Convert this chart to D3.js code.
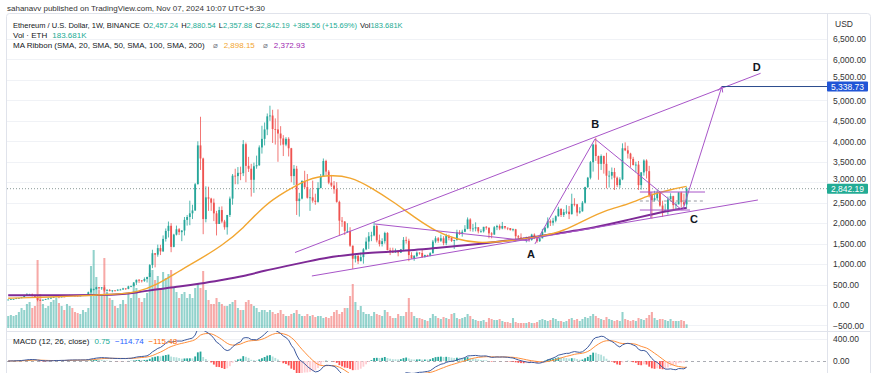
<!DOCTYPE html>
<html>
<head>
<meta charset="utf-8">
<script src="https://cdn.jsdelivr.net/npm/d3@7/dist/d3.min.js"></script>
<style>
html,body{margin:0;padding:0;background:#ffffff;}
svg{display:block;font-family:"Liberation Sans",Arial,sans-serif;}
</style>
</head>
<body>
<svg id="chart" width="875" height="373"></svg>
<script>
// ================= DATA (weekly ETH/USD, Dec 23 2019 -> Nov 4 2024) =================
const firstOpen = 128;
const close2019 = [132];
const high2019  = [136];
const low2019   = [125];

const close2020 = [144,146,167,168,190,223,260,262,218,200,123,122,125,143,158,180,197,210,187,207,200,231,241,230,228,225,228,239,239,310,387,390,433,409,430,353,365,344,357,353,375,377,406,395,455,460,550,615,601,590,635,685];
const high2020  = [145,150,175,175,191,224,288,275,280,253,205,139,140,150,175,188,199,227,215,215,211,245,250,248,236,234,233,244,245,327,415,400,445,440,440,488,390,390,362,362,382,395,420,410,470,475,560,622,635,610,675,690];
const low2020   = [127,136,143,157,166,186,221,240,209,190,90,110,119,124,142,148,170,195,165,185,195,198,225,220,222,215,222,227,233,236,310,355,375,372,370,308,330,330,310,335,340,360,375,370,385,435,460,490,540,550,565,550];

const close2021 = [975,1265,1230,1390,1310,1615,1810,1935,1420,1720,1850,1780,1820,2080,2150,2240,2310,2950,3900,3580,2100,2630,2600,2500,2240,1980,2320,2040,1900,2200,2600,3160,3150,3230,3220,3930,3400,3330,3060,3390,3415,3850,4060,4290,4610,4630,4300,4290,4190,4070,3920,4060];
const high2021  = [1000,1350,1260,1475,1470,1700,1870,2040,2000,1740,1940,1880,1830,2150,2200,2550,2450,2980,4000,4600,3600,2900,2890,2620,2600,2300,2400,2410,2080,2200,2650,3200,3330,3370,3380,4030,3970,3620,3450,3480,3650,3900,4380,4460,4680,4870,4770,4560,4780,4370,4150,4100];
const low2021   = [715,900,920,1180,1220,1300,1550,1650,1290,1410,1700,1710,1560,1700,1940,1950,2100,2300,2950,3300,1730,2020,2300,2300,2050,1700,1980,2000,1840,1720,2150,2450,2950,2950,3050,3150,3000,3250,2650,2740,3330,3400,3700,3900,4150,4500,3960,3920,3500,3900,3640,3880];

const close2022 = [3830,3150,3330,2540,2600,3030,2880,2620,2630,2550,2520,2860,3140,3520,3260,2990,2920,2830,2520,2060,2040,1810,1810,1450,1130,1200,1070,1170,1360,1550,1680,1700,1930,1580,1490,1560,1760,1340,1300,1280,1320,1280,1360,1590,1570,1220,1140,1200,1280,1270,1170,1220,1200];
const high2022  = [4100,3840,3420,3400,2740,3050,3280,3200,2830,3040,2720,3000,3200,3580,3550,3300,3180,3030,3000,2550,2150,2050,2000,1900,1450,1250,1230,1280,1390,1650,1780,1790,2030,1960,1720,1630,1790,1780,1400,1400,1380,1340,1370,1660,1670,1620,1290,1220,1310,1290,1350,1230,1230];
const low2022   = [3630,3000,2930,2200,2160,2580,2850,2600,2300,2500,2450,2500,2850,3180,3170,2950,2880,2720,2500,1700,1910,1710,1760,1420,880,1040,1000,1070,1010,1340,1370,1560,1680,1530,1430,1430,1500,1340,1220,1270,1280,1190,1270,1340,1500,1070,1130,1080,1170,1230,1150,1160,1180];

const close2023 = [1265,1550,1630,1570,1630,1510,1690,1640,1565,1590,1780,1750,1790,1860,2090,1860,1870,1900,1800,1800,1910,1890,1750,1720,1900,1930,1870,1930,1890,1880,1830,1850,1680,1650,1630,1620,1620,1590,1720,1630,1560,1630,1790,1890,2050,2010,2060,2170,2350,2200,2270,2280];
const high2023  = [1290,1590,1680,1660,1720,1680,1740,1720,1670,1590,1840,1830,1840,1950,2140,2120,1980,2020,1900,1850,1910,1930,1890,1780,1930,1960,1970,2030,1930,1890,1880,1870,1860,1710,1750,1650,1670,1680,1740,1750,1640,1640,1860,1910,2140,2090,2130,2190,2400,2360,2340,2440];
const low2023   = [1190,1260,1510,1520,1540,1460,1460,1580,1540,1370,1570,1710,1670,1780,1850,1800,1790,1800,1750,1770,1770,1840,1630,1630,1720,1830,1830,1850,1850,1830,1820,1800,1550,1620,1610,1600,1530,1570,1570,1610,1520,1540,1630,1760,1870,1930,1940,2020,2160,2150,2150,2220];

const close2024 = [2220,2470,2460,2260,2290,2500,2880,3110,3490,3920,3640,3450,3640,3450,3160,3160,3250,3110,2930,3070,3830,3780,3700,3570,3420,3430,2930,3240,3530,3270,2690,2560,2610,2750,2430,2290,2320,2580,2660,2440,2460,2750,2510,2457.24,2842.19];
const high2024  = [2420,2720,2610,2470,2390,2540,2890,3130,3520,3940,4090,3650,3680,3650,3720,3280,3360,3350,3140,3120,3950,3975,3890,3720,3620,3500,3520,3250,3560,3560,3400,2760,2790,2820,2770,2550,2470,2650,2730,2670,2520,2760,2770,2720,2880.54];
const low2024   = [2100,2210,2410,2170,2230,2280,2480,2860,3070,3260,3520,3060,3300,3210,2850,2870,3070,2810,2880,2860,3050,3760,3580,3360,3410,3240,2810,2820,3160,3090,2630,2110,2530,2550,2400,2150,2270,2210,2590,2310,2350,2460,2390,2420,2357.88];

// weekly volume, thousand ETH
const volumes = [
 600,650,600,650,800,1000,900,1200,1300,1000,1100,
 3400,
 1700,1200,1000,1100,1300,1400,1500,1250,1100,
 900,1200,1100,1000,800,750,700,900,800,1000,
 3100,3900,2550,1900,1700,3500,1800,1500,1400,1100,
 1000,1200,1400,1200,1700,1500,2200,2000,1500,1300,1500,1750,
 2750,2900,2400,2600,2000,2800,2500,2700,2900,2000,1800,1500,
 1700,1800,1500,1700,1500,2000,2250,2000,
 2850,1900,1400,1200,1200,1500,1300,1200,1100,1100,1200,1300,
 1400,1000,900,900,1300,1400,1200,1100,1000,800,900,
 900,800,900,800,700,750,900,700,600,600,700,750,900,700,600,
 600,700,600,650,550,600,600,500,550,500,600,800,900,700,
 800,1000,1000,1600,2200,1300,900,1100,800,700,700,
 600,800,700,650,600,900,800,600,500,500,700,600,600,800,
 1500,800,600,500,500,450,400,350,
 500,700,600,500,450,550,500,450,700,750,500,450,500,
 550,700,600,450,400,350,350,400,300,500,
 450,400,400,450,350,300,300,250,500,300,250,250,250,250,300,
 250,250,300,400,450,400,350,400,500,450,350,350,300,350,
 450,500,400,450,350,450,550,500,600,700,600,500,450,
 400,550,450,400,350,400,350,800,450,400,350,400,350,
 500,450,400,500,650,800,500,400,450,450,400,350,450,
 350,350,350,400,350,183.681
];

// MA ribbon lines (week index -> value)
const maWeek   = [0,8,16,24,32,40,48,56,64,72,80,88,96,104,112,120,128,136,144,152,160,168,176,184,192,200,208,216,224,232,240,248,254];
const sma50    = [165,180,195,215,240,262,300,500,830,1130,1450,1870,2450,2780,3080,3180,3140,2870,2530,2150,1800,1600,1510,1550,1600,1680,1810,2080,2330,2450,2690,2820,2898.15];
const sma200   = [240,240,238,238,242,250,300,390,450,520,610,700,840,950,1060,1170,1230,1280,1310,1340,1390,1440,1490,1550,1610,1690,1775,1850,1960,2080,2200,2310,2372.93];

// axis ticks
const priceTicks = [6500,6000,5500,5000,4500,4000,3500,3000,2500,2000,1500,1000,500,0,-500];
const macdTicks  = [400,0];

// drawings: [week index, price]
const channelUpper  = [[107.4,1283],[281.7,5662]];
const channelLower  = [[113.7,709],[280.7,2566]];
const triangleUpper = [[137.3,1979],[195.4,1564]];
const wavePath      = [[197.2,1491],[219.7,4057],[252.3,2321]];
const projection    = [[252.6,2330],[267.2,5338.73]];
const targetPrice   = 5338.73;
const lastPrice     = 2842.19;
const rangeTop      = [[236.5,2761],[260.9,2761]];
const rangeMid      = [[236.5,2541],[260.9,2541]];
const rangeBottom   = [[236.5,2321],[255.3,2321]];
const rangeSide     = [[240.6,2761],[240.6,2126]];
const waveLabels    = [{t:"A",w:195.7,p:1246},{t:"B",w:219.8,p:4423},{t:"C",w:256.8,p:2101},{t:"D",w:280.3,p:5816}];

// ================= BUILD =================
const closes = [].concat(close2019,close2020,close2021,close2022,close2023,close2024);
const highs  = [].concat(high2019,high2020,high2021,high2022,high2023,high2024);
const lows   = [].concat(low2019,low2020,low2021,low2022,low2023,low2024);
const N = closes.length;
const candles = closes.map((c,i)=>{
  const o = i===0 ? firstOpen : closes[i-1];
  return {i, o, c, h: Math.max(highs[i],o,c), l: Math.min(lows[i],o,c), v: volumes[i]};
});

// MACD 12,26,9
function ema(arr,n){const k=2/(n+1);const out=[];arr.forEach((v,i)=>out.push(i===0?v:v*k+out[i-1]*(1-k)));return out;}
const e12 = ema(closes,12), e26 = ema(closes,26);
const macd = closes.map((_,i)=>e12[i]-e26[i]);
const signal = ema(macd,9);
const hist = macd.map((m,i)=>m-signal[i]);

// ================= LAYOUT =================
const plotL = 7, plotR = 827, mainTop = 14, paneSep = 331, bottom = 373;
const svg = d3.select("#chart");
const UP = "#26a69a", DOWN = "#ef5350";

const x = d3.scaleLinear().domain([0, N-1]).range([8.2, 686.6]);
const y = d3.scaleLinear().domain([-500, 6500]).range([325.46, 39]);
const yVol = d3.scaleLinear().domain([0, 4000]).range([328, 248]);
const yM = d3.scaleLinear().domain([0, 400]).range([361, 339]);

const defs = svg.append("defs");
defs.append("clipPath").attr("id","mainClip").append("rect")
  .attr("x",plotL).attr("y",mainTop).attr("width",plotR-plotL).attr("height",paneSep-mainTop);
defs.append("clipPath").attr("id","macdClip").append("rect")
  .attr("x",plotL).attr("y",paneSep).attr("width",plotR-plotL).attr("height",bottom-paneSep);

// header
svg.append("text").attr("x",7).attr("y",10.5).attr("font-size",8).attr("fill","#333")
  .text("sahanavv published on TradingView.com, Nov 07, 2024 10:07 UTC+5:30");

// frame
svg.append("rect").attr("x",6.5).attr("y",13.5).attr("width",864).attr("height",372)
  .attr("fill","none").attr("stroke","#e0e3eb").attr("rx",3);

// grid
const grid = svg.append("g");
grid.selectAll("line.pg").data(priceTicks).join("line")
  .attr("x1",plotL).attr("x2",plotR).attr("y1",d=>Math.round(y(d))+0.5).attr("y2",d=>Math.round(y(d))+0.5)
  .attr("stroke","#f0f2f6").attr("stroke-width",1);
grid.append("line").attr("x1",plotL).attr("x2",plotR).attr("y1",Math.round(yM(400))+0.5).attr("y2",Math.round(yM(400))+0.5)
  .attr("stroke","#f0f2f6");
grid.append("line").attr("x1",plotL).attr("x2",plotR).attr("y1",Math.round(yM(0))+0.5).attr("y2",Math.round(yM(0))+0.5)
  .attr("stroke","#9598a1").attr("stroke-dasharray","3,3").attr("stroke-width",0.8);

// separators
svg.append("line").attr("x1",plotR+0.5).attr("x2",plotR+0.5).attr("y1",mainTop).attr("y2",bottom).attr("stroke","#e0e3eb");
svg.append("line").attr("x1",plotL).attr("x2",871).attr("y1",paneSep+0.5).attr("y2",paneSep+0.5).attr("stroke","#e0e3eb");

// main pane
const main = svg.append("g").attr("clip-path","url(#mainClip)");
const step = x(1)-x(0);

// volume
main.append("g").selectAll("rect").data(candles).join("rect")
  .attr("x",d=>x(d.i)-step*0.38).attr("width",step*0.76)
  .attr("y",d=>yVol(d.v)).attr("height",d=>yVol(0)-yVol(d.v))
  .attr("fill",d=>d.c>=d.o?UP:DOWN).attr("fill-opacity",0.5);

// current price line
main.append("line").attr("x1",plotL).attr("x2",plotR).attr("y1",y(lastPrice)).attr("y2",y(lastPrice))
  .attr("stroke","#8a9a98").attr("stroke-dasharray","1,2").attr("stroke-width",1);

// candles
const cg = main.append("g");
cg.selectAll("line").data(candles).join("line")
  .attr("x1",d=>x(d.i)).attr("x2",d=>x(d.i)).attr("y1",d=>y(d.h)).attr("y2",d=>y(d.l))
  .attr("stroke",d=>d.c>=d.o?UP:DOWN).attr("stroke-width",0.8);
cg.selectAll("rect").data(candles).join("rect")
  .attr("x",d=>x(d.i)-step*0.34).attr("width",step*0.68)
  .attr("y",d=>y(Math.max(d.o,d.c))).attr("height",d=>Math.max(0.8,Math.abs(y(d.o)-y(d.c))))
  .attr("fill",d=>d.c>=d.o?UP:DOWN);

// MA lines
const maLine = arr => d3.line().x((d,i)=>x(maWeek[i])).y(d=>y(d)).curve(d3.curveBasis)(arr);
main.append("path").attr("d",maLine(sma200)).attr("fill","none").attr("stroke","#7e2a96").attr("stroke-width",2);
main.append("path").attr("d",maLine(sma50)).attr("fill","none").attr("stroke","#f2a630").attr("stroke-width",1.4);

// drawings
const dl = d3.line().x(d=>x(d[0])).y(d=>y(d[1]));
const DRAW = "#a855c8";
const dg = main.append("g").attr("fill","none").attr("stroke",DRAW).attr("stroke-width",1);
[channelUpper, channelLower, triangleUpper, wavePath, projection, rangeTop, rangeBottom, rangeSide].forEach(p=>{
  dg.append("path").attr("d",dl(p));
});
dg.append("path").attr("d",dl(rangeMid)).attr("stroke","#9598a1").attr("stroke-dasharray","3,3");

// arrow head on projection
(function(){
  const p0=[x(projection[0][0]),y(projection[0][1])], p1=[x(projection[1][0]),y(projection[1][1])];
  const a=Math.atan2(p1[1]-p0[1],p1[0]-p0[0]), L=6, s=0.45;
  const pts=[[p1[0]-L*Math.cos(a-s),p1[1]-L*Math.sin(a-s)],p1,[p1[0]-L*Math.cos(a+s),p1[1]-L*Math.sin(a+s)]];
  dg.append("path").attr("d",d3.line()(pts));
})();

// target line
main.append("line").attr("x1",x(projection[1][0])).attr("x2",plotR).attr("y1",y(targetPrice)).attr("y2",y(targetPrice))
  .attr("stroke","#2a4b8d").attr("stroke-width",1);

// wave labels
svg.append("g").selectAll("text").data(waveLabels).join("text")
  .attr("x",d=>x(d.w)).attr("y",d=>y(d.p)).attr("text-anchor","middle").attr("dominant-baseline","central")
  .attr("font-size",11).attr("font-weight","bold").attr("fill","#131722").text(d=>d.t);

// MACD pane
const mg = svg.append("g").attr("clip-path","url(#macdClip)");
mg.selectAll("rect").data(hist).join("rect")
  .attr("x",(d,i)=>x(i)-step*0.34).attr("width",step*0.68)
  .attr("y",d=>Math.min(yM(d),yM(0))).attr("height",d=>Math.abs(yM(d)-yM(0)))
  .attr("fill",(d,i)=>{const p=i>0?hist[i-1]:0; return d>=0?(d>=p?"#26a69a":"#b2dfdb"):(d<p?"#ff5252":"#ffcdd2");});
const ml = d3.line().x((d,i)=>x(i)).y(d=>yM(d));
mg.append("path").attr("d",ml(signal)).attr("fill","none").attr("stroke","#ff8f3a").attr("stroke-width",1);
mg.append("path").attr("d",ml(macd)).attr("fill","none").attr("stroke","#3d5a9e").attr("stroke-width",1);

// axes
const fmt = d3.format(",.2f");
const tags = [targetPrice, lastPrice];
const ax = svg.append("g").attr("transform",`translate(${plotR},0)`)
  .call(d3.axisRight(y).tickValues(priceTicks).tickFormat(fmt).tickSize(0).tickPadding(6));
ax.select(".domain").remove();
ax.selectAll("text").attr("font-size",8.5).attr("fill","#333").attr("font-family","Liberation Sans, Arial, sans-serif");
// nudge labels that sit under a price tag so both stay readable
ax.selectAll(".tick").each(function(d){
  tags.forEach(t=>{
    const dy = y(d)-y(t);
    if (Math.abs(dy) < 10) d3.select(this).select("text").attr("dy", (dy<0 ? -(10+dy) : (10-dy)) + "px").attr("dominant-baseline","central");
  });
});
const axm = svg.append("g").attr("transform",`translate(${plotR},0)`)
  .call(d3.axisRight(yM).tickValues(macdTicks).tickFormat(fmt).tickSize(0).tickPadding(6));
axm.select(".domain").remove();
axm.selectAll("text").attr("font-size",8.5).attr("fill","#333").attr("font-family","Liberation Sans, Arial, sans-serif");
svg.append("text").attr("x",835).attr("y",27).attr("font-size",8.5).attr("fill","#333").text("USD");

// price labels
function priceTag(v,color){
  const g=svg.append("g");
  g.append("rect").attr("x",plotR).attr("y",y(v)-5).attr("width",41).attr("height",10).attr("fill",color).attr("rx",1);
  g.append("text").attr("x",plotR+20.5).attr("y",y(v)).attr("dominant-baseline","central").attr("text-anchor","middle")
    .attr("font-size",8.5).attr("fill","#fff").text(fmt(v));
}
priceTag(targetPrice,"#2155d6");
priceTag(lastPrice,"#22ab94");

// legends
const G="#22ab94", T="#131722";
function legend(yy, fs, parts){
  const t=svg.append("text").attr("x",13).attr("y",yy).attr("font-size",fs).attr("fill",T);
  parts.forEach(p=>t.append("tspan").attr("fill",p[1]||T).attr("dx",p[2]||0).text(p[0]));
}
legend(28,7.5,[["Ethereum / U.S. Dollar, 1W, BINANCE"],["O",T,3],["2,457.24",G],["H",T,3],["2,880.54",G],["L",T,3],["2,357.88",G],["C",T,3],["2,842.19",G],["+385.56 (+15.69%)",G,3],["Vol",T,3],["183.681K",G]]);
legend(37.5,8,[["Vol · ETH"],["183.681K",G,5]]);
legend(47.5,8,[["MA Ribbon (SMA, 20, SMA, 50, SMA, 100, SMA, 200)"],["⌀","#787b86",8],["2,898.15","#f2a630",6],["⌀","#787b86",8],["2,372.93","#9c27b0",6]]);
legend(344,8,[["MACD (12, 26, close)"],["0.75",G,5],["−114.74","#2962ff",5],["−115.48","#ff6d00",5]]);
</script>
</body>
</html>
